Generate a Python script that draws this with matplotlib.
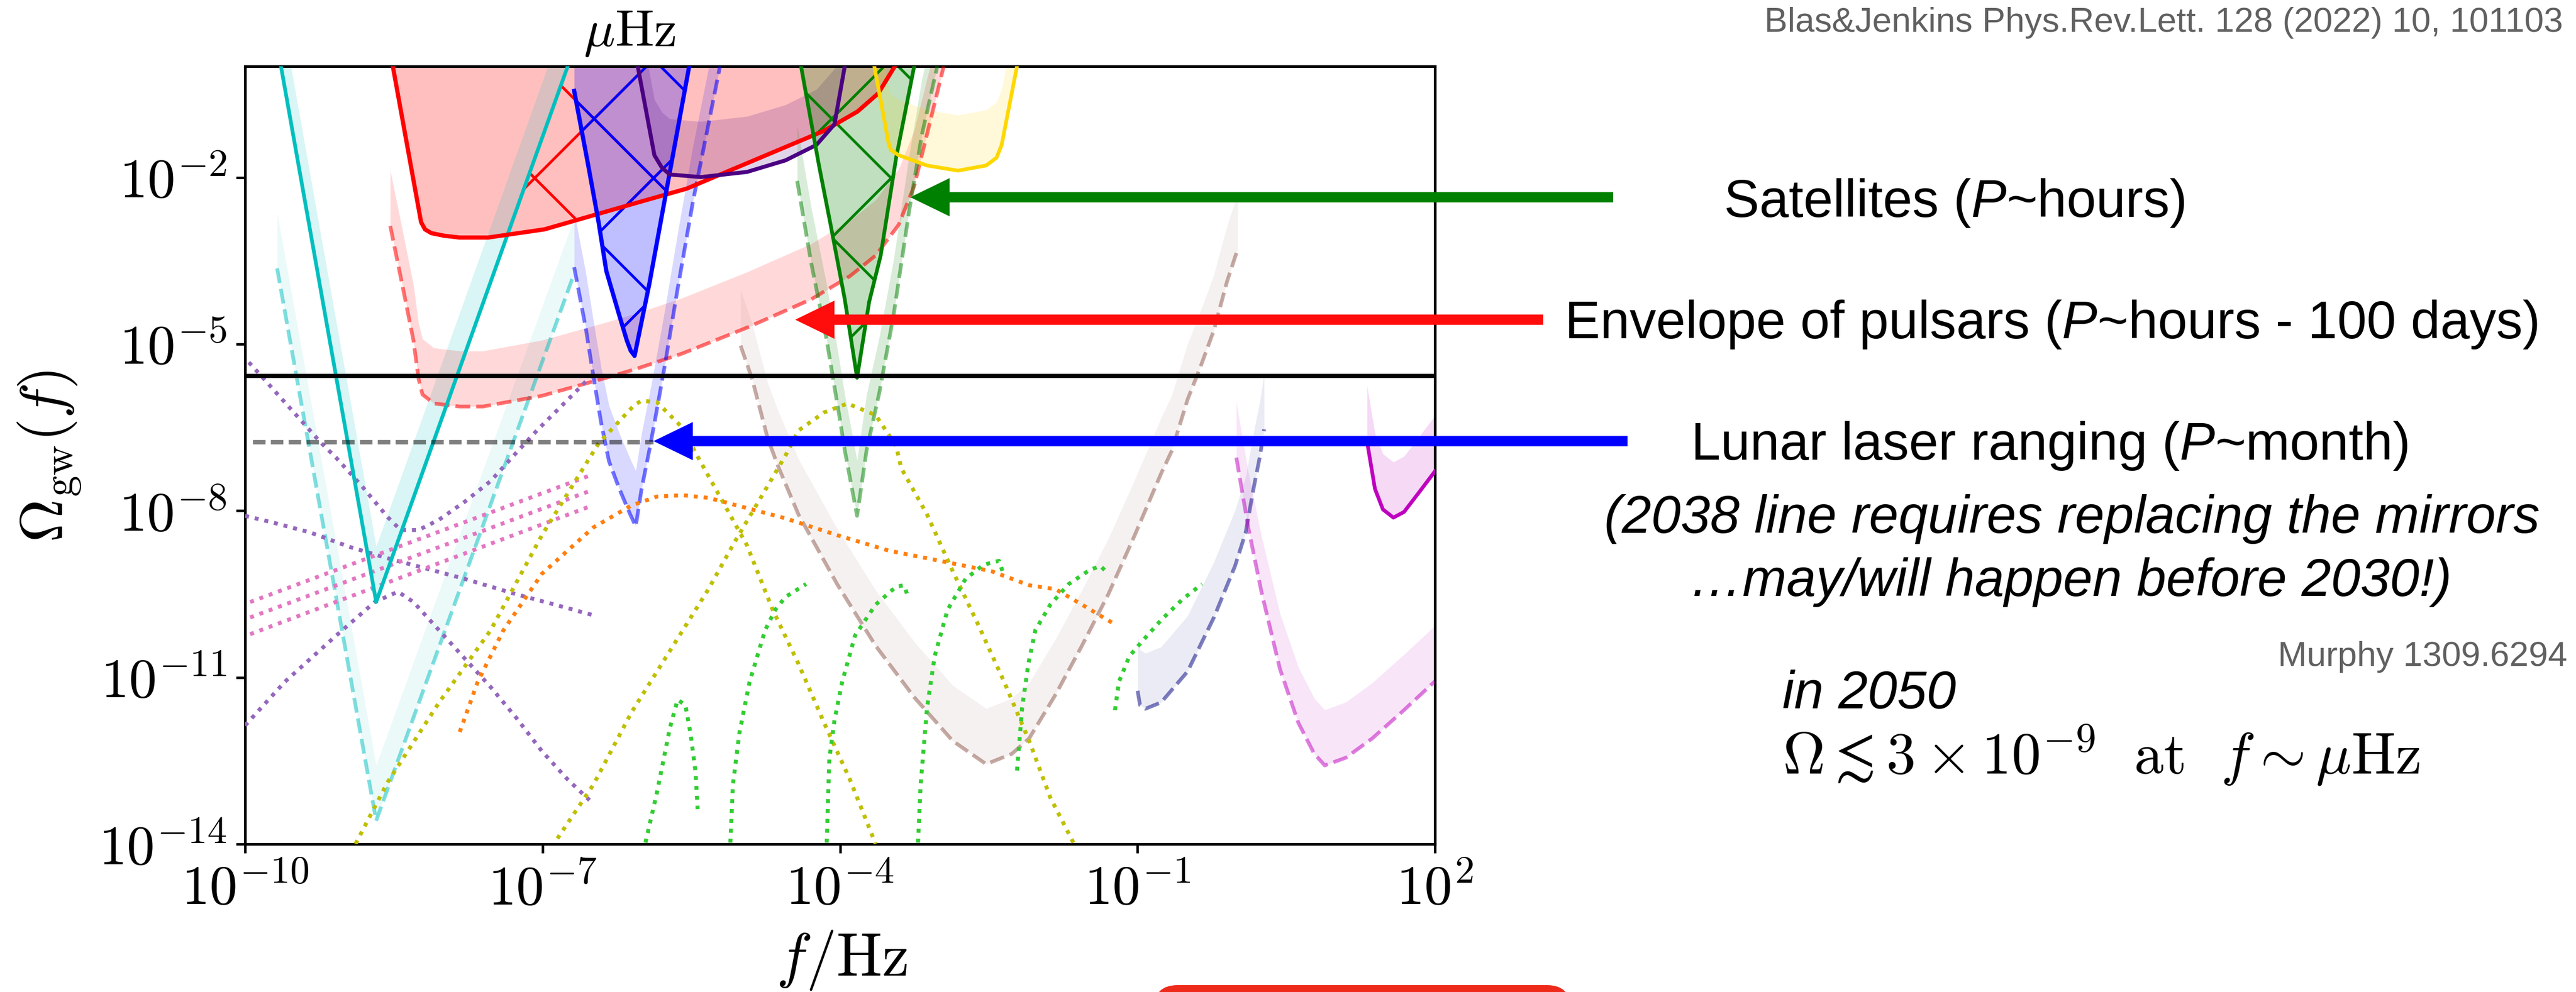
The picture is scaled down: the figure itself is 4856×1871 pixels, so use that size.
import numpy as np
import matplotlib
matplotlib.use("Agg")
import matplotlib.pyplot as plt
from matplotlib.patches import Polygon, FancyBboxPatch
from matplotlib.transforms import Affine2D
from matplotlib.ticker import NullLocator

# ------------------------------------------------------------------
# Curves are given as vertices in decades: log10(f/Hz), log10(Omega_gw)
# ------------------------------------------------------------------

# Pulsar timing arrays: present (solid) and future (dashed)
pta_now_lf = [-9.638, -8.678, -6.746]
pta_now_lo = [0.0, -9.643, 0.0]
pta_fut_lf = [-9.677, -8.678, -6.681]
pta_fut_lo = [-3.638, -13.58, -3.731]

# Binary pulsars: present bound (solid) and envelope of pulsars (dashed)
bp_now_lf = [-8.51, -8.225, -8.186, -8.121, -7.991, -7.835, -7.55, -6.98,
             -6.051, -5.547, -4.16, -3.823, -3.615, -3.447]
bp_now_lo = [0.0, -2.805, -2.935, -3.004, -3.051, -3.083, -3.083, -2.935,
             -2.458, -2.203, -1.161, -0.814, -0.489, 0.0]
bp_fut_lf = [-8.536, -8.406, -8.302, -8.25, -8.211, -8.095, -7.835, -7.602,
             -7.006, -6.357, -6.051, -5.586, -4.938, -4.29, -3.9, -3.641,
             -3.408, -3.252, -3.123, -2.954]
bp_fut_lo = [-2.875, -4.009, -4.935, -5.63, -5.908, -6.07, -6.125, -6.125,
             -5.931, -5.607, -5.445, -5.167, -4.704, -4.194, -3.777, -3.407,
             -2.851, -2.157, -1.23, 0.0]

# Lunar laser ranging: present (solid) and future (dashed)
llr_now_lf = [-6.681, -6.539, -6.435, -6.357, -6.228, -6.15, -6.111, -6.072,
              -5.923, -5.521]
llr_now_lo = [-0.443, -1.786, -2.805, -3.685, -4.472, -4.935, -5.12, -5.213,
              -3.916, 0.0]
llr_fut_lf = [-6.681, -6.565, -6.487, -6.409, -6.331, -6.227, -6.12, -6.06,
              -6.001, -5.923, -5.871, -5.768, -5.638, -5.483, -5.327, -5.21]
llr_fut_lo = [-3.617, -4.704, -5.583, -6.417, -7.103, -7.6, -8.05, -8.28,
              -7.606, -6.911, -6.417, -5.398, -4.009, -2.434, -1.045, 0.0]

# Satellites: present (solid) and future (dashed)
sat_now_lf = [-4.393, -4.212, -4.095, -3.952, -3.828, -3.706, -3.59, -3.434, -3.252]
sat_now_lo = [0.0, -1.786, -2.851, -4.194, -5.607, -4.24, -3.407, -1.647, 0.0]
sat_fut_lf = [-4.432, -4.29, -4.134, -4.004, -3.952, -3.828, -3.732, -3.602,
              -3.459, -3.304, -3.174, -3.019]
sat_fut_lo = [-2.064, -3.546, -4.935, -6.325, -6.911, -8.092, -6.911, -5.862,
              -4.472, -2.62, -1.23, 0.0]

# Other solid bounds
indigo_lf = [-6.04, -5.872, -5.794, -5.716, -5.405, -4.938, -4.549, -4.238, -4.056, -3.952]
indigo_lo = [0.0, -1.601, -1.832, -1.948, -1.995, -1.902, -1.693, -1.416, -1.045, 0.0]
gold_lf = [-3.654, -3.512, -3.486, -3.408, -3.122, -2.811, -2.526, -2.422, -2.37, -2.215]
gold_lo = [0.0, -1.37, -1.508, -1.601, -1.786, -1.879, -1.786, -1.647, -1.416, 0.0]
mag_lf = [1.315, 1.395, 1.475, 1.581, 1.688, 1.847, 2.0]
mag_lo = [-6.75, -7.606, -7.976, -8.124, -8.022, -7.652, -7.29]

# Other projected (dashed) curves
brown_lf = [-5.003, -4.886, -4.73, -4.627, -4.419, -4.03, -3.641, -3.252, -2.863,
            -2.526, -2.267, -2.092, -1.826, -1.56, -1.294, -1.027, -0.761,
            -0.655, -0.495, -0.362, -0.229, -0.096, 0.011]
brown_lo = [-5.028, -5.63, -6.695, -7.189, -8.069, -9.319, -10.43, -11.357, -12.144,
            -12.561, -12.376, -12.098, -11.31, -10.43, -9.504, -8.439, -7.328,
            -6.927, -6.0, -5.398, -4.75, -3.87, -3.291]
slate_lf = [-0.999, -0.974, -0.921, -0.761, -0.495, -0.229, -0.016, 0.091, 0.17, 0.237, 0.277]
slate_lo = [-11.241, -11.5, -11.565, -11.45, -10.894, -9.921, -8.995, -8.393, -7.606, -7.004, -6.533]
orchid_lf = [-0.003, 0.117, 0.25, 0.437, 0.623, 0.783, 0.889, 1.102, 1.368, 1.688, 2.0]
orchid_lo = [-7.043, -8.30, -9.458, -10.85, -11.82, -12.376, -12.584, -12.445, -12.098, -11.588, -11.07]

# Dotted signal curves
purple_a_lf = [-9.962, -9.832, -9.236, -9.08, -8.821, -8.562, -8.432, -8.25, -8.043,
               -7.784, -7.524, -7.265, -7.057, -6.72, -6.487]
purple_a_lo = [-5.329, -5.584, -6.774, -7.05, -7.559, -8.115, -8.347, -8.347, -8.161,
               -7.837, -7.467, -6.957, -6.556, -5.955, -5.537]
purple_b_lf = [-10.0, -9.729, -9.34, -8.951, -8.562, -8.173, -7.784, -7.265, -6.876, -6.5]
purple_b_lo = [-8.092, -8.208, -8.393, -8.648, -8.856, -9.041, -9.227, -9.504, -9.69, -9.875]
purple_c_lf = [-10.0, -9.599, -9.08, -8.692, -8.458, -8.302, -8.043, -7.784, -7.524,
               -7.265, -7.006, -6.746, -6.526]
purple_c_lo = [-11.866, -11.079, -10.245, -9.643, -9.458, -9.643, -10.153, -10.662,
               -11.172, -11.727, -12.329, -12.839, -13.21]

pink_lf = [-9.949, -6.5]
pink_1_lo = [-9.643, -7.351]
pink_2_lo = [-9.921, -7.629]
pink_3_lo = [-10.222, -7.907]

olive_1_lf = [-8.886, -8.562, -8.043, -7.524, -7.006, -6.435, -6.072, -6.0, -5.846,
              -5.716, -5.586, -5.457, -5.197, -4.938, -4.679, -4.419, -4.16, -3.9, -3.641]
olive_1_lo = [-13.997, -12.885, -11.45, -10.153, -8.439, -6.788, -6.093, -6.02, -6.047,
              -6.278, -6.51, -6.957, -7.791, -8.624, -9.782, -10.755, -11.82, -12.839, -13.997]
olive_2_lf = [-6.85, -6.487, -6.105, -5.846, -5.586, -5.327, -5.068, -4.808, -4.549,
              -4.419, -4.16, -3.926, -3.641, -3.434, -3.382, -3.122, -2.863, -2.604,
              -2.345, -2.092, -1.879, -1.64]
olive_2_lo = [-13.9, -12.93, -11.635, -10.894, -10.153, -9.412, -8.578, -7.791, -7.004,
              -6.556, -6.23, -6.07, -6.278, -6.834, -7.235, -8.069, -9.088, -10.06,
              -11.079, -12.144, -13.163, -13.997]

orange_lf = [-7.835, -7.654, -7.395, -7.006, -6.487, -6.105, -5.846, -5.586, -5.327,
             -4.938, -4.549, -4.03, -3.511, -2.993, -2.474, -2.092, -1.826, -1.56, -1.214]
orange_lo = [-11.982, -11.079, -10.153, -9.134, -8.3, -7.907, -7.745, -7.721, -7.768,
             -7.953, -8.138, -8.439, -8.717, -8.902, -9.088, -9.342, -9.412, -9.69, -10.06]

lime_1_lf = [-5.962, -5.846, -5.716, -5.638, -5.56, -5.508, -5.457, -5.436]
lime_1_lo = [-13.974, -13.07, -11.912, -11.403, -11.496, -12.005, -12.7, -13.371]
lime_2_lf = [-5.106, -5.08, -5.015, -4.912, -4.756, -4.653, -4.549, -4.342]
lime_2_lo = [-13.974, -12.93, -12.005, -11.079, -10.153, -9.782, -9.551, -9.319]
lime_3_lf = [-4.134, -4.108, -4.056, -3.978, -3.848, -3.641, -3.434, -3.356, -3.317]
lime_3_lo = [-13.974, -12.468, -11.774, -11.079, -10.245, -9.69, -9.366, -9.342, -9.528]
lime_4_lf = [-3.213, -3.187, -3.122, -3.045, -2.915, -2.734, -2.552, -2.396, -2.357]
lime_4_lo = [-13.974, -12.93, -11.542, -10.616, -9.782, -9.227, -8.972, -8.902, -9.111]
lime_5_lf = [-2.215, -2.163, -2.10, -2.03, -1.879, -1.693, -1.48, -1.373, -1.32]
lime_5_lo = [-12.677, -11.542, -10.75, -10.15, -9.69, -9.319, -9.064, -8.995, -9.088]
lime_6_lf = [-1.227, -1.187, -1.081, -0.947, -0.761, -0.548, -0.349]
lime_6_lo = [-11.589, -11.079, -10.616, -10.338, -9.967, -9.597, -9.319]

# Horizontal reference levels
ref_solid_lo = -5.57
ref_dash_lf = [-9.92, -5.88]
ref_dash_lo = -6.77

# Axis ticks (decades)
xtick_dec = [-10, -7, -4, -1, 2]
ytick_dec = [-14, -11, -8, -5, -2]

# ------------------------------------------------------------------
W, H, DPI = 4856, 1871, 672
plt.rcParams['mathtext.fontset'] = 'cm'
plt.rcParams['font.family'] = ['Liberation Sans', 'DejaVu Sans']
plt.rcParams['hatch.linewidth'] = 0.55

fig = plt.figure(figsize=((W + 0.01) / DPI, (H + 0.01) / DPI), dpi=DPI)
ax = fig.add_axes([462 / W, 1 - 1592 / H, (2705 - 462) / W, (1592 - 125) / H])
pix = Affine2D().scale(1.0 / W, -1.0 / H).translate(0, 1) + fig.transFigure

TOP = 1.0
LW_DASH = 0.75
DASH = (4.0, 1.6)
LW_DOT = 0.8
DOT = (1.0, 1.5)


def P(a):
    return 10.0 ** np.asarray(a, dtype=float)


def fill_top(lf, lo, color, alpha):
    ax.fill_between(P(lf), P(lo), TOP, color=color, alpha=alpha, lw=0, zorder=1)


def fill_band(lf, lo, color, alpha):
    lo = np.asarray(lo, dtype=float)
    ax.fill_between(P(lf), P(lo), P(lo + 1.0), color=color, alpha=alpha, lw=0, zorder=1)


def hatch(lf, lower, upper, color):
    ax.fill_between(P(lf), P(lower), P(upper), facecolor='none', edgecolor=color,
                    hatch='x', lw=0, zorder=1.5)


# --- shaded regions ---
fill_top(bp_now_lf, bp_now_lo, 'r', 0.25)
fill_band(pta_now_lf, pta_now_lo, 'c', 0.15)
fill_band(pta_fut_lf, pta_fut_lo, 'c', 0.08)
fill_band(bp_fut_lf, bp_fut_lo, 'r', 0.15)
fill_top(llr_now_lf, llr_now_lo, 'b', 0.25)
fill_band(llr_fut_lf, llr_fut_lo, 'b', 0.15)
fill_band(indigo_lf, indigo_lo, 'indigo', 0.17)
fill_top(sat_now_lf, sat_now_lo, 'g', 0.25)
fill_band(sat_fut_lf, sat_fut_lo, 'g', 0.15)
fill_band(gold_lf, gold_lo, 'gold', 0.15)
fill_band(brown_lf, brown_lo, 'tab:brown', 0.08)
fill_band(slate_lf, slate_lo, 'navy', 0.08)
fill_band(orchid_lf, orchid_lo, 'm', 0.1)
fill_band(mag_lf, mag_lo, 'm', 0.15)

# hatched: newly excluded parts of parameter space
gx = np.linspace(-7.3, -5.547, 600)
low = np.interp(gx, bp_now_lf, bp_now_lo)
upp = np.minimum.reduce([np.interp(gx, pta_now_lf, pta_now_lo, left=5, right=5),
                         np.interp(gx, indigo_lf, indigo_lo, left=5, right=5),
                         np.zeros_like(gx)])
ok = upp > low
ax.fill_between(P(gx), P(low), P(upp), where=ok, facecolor='none', edgecolor='r',
                hatch='x', lw=0, zorder=1.5, interpolate=True)
hatch(llr_now_lf, llr_now_lo, np.zeros(len(llr_now_lf)), 'b')
hatch(sat_now_lf, sat_now_lo, np.zeros(len(sat_now_lf)), 'g')

# --- dashed projections ---
for lf, lo, c, a in [(pta_fut_lf, pta_fut_lo, 'c', 0.5),
                     (bp_fut_lf, bp_fut_lo, 'r', 0.55),
                     (llr_fut_lf, llr_fut_lo, 'b', 0.55),
                     (sat_fut_lf, sat_fut_lo, 'g', 0.5),
                     (brown_lf, brown_lo, 'tab:brown', 0.5),
                     (slate_lf, slate_lo, 'navy', 0.5),
                     (orchid_lf, orchid_lo, 'm', 0.5)]:
    ax.plot(P(lf), P(lo), color=c, alpha=a, lw=LW_DASH, dashes=DASH, zorder=3)

# --- dotted signals ---
dotted = [(purple_a_lf, purple_a_lo, 'tab:purple'),
          (purple_b_lf, purple_b_lo, 'tab:purple'),
          (purple_c_lf, purple_c_lo, 'tab:purple'),
          (pink_lf, pink_1_lo, 'tab:pink'),
          (pink_lf, pink_2_lo, 'tab:pink'),
          (pink_lf, pink_3_lo, 'tab:pink'),
          (olive_1_lf, olive_1_lo, 'y'),
          (olive_2_lf, olive_2_lo, 'y'),
          (orange_lf, orange_lo, 'tab:orange'),
          (lime_1_lf, lime_1_lo, 'limegreen'),
          (lime_2_lf, lime_2_lo, 'limegreen'),
          (lime_3_lf, lime_3_lo, 'limegreen'),
          (lime_4_lf, lime_4_lo, 'limegreen'),
          (lime_5_lf, lime_5_lo, 'limegreen'),
          (lime_6_lf, lime_6_lo, 'limegreen')]
for lf, lo, c in dotted:
    ax.plot(P(lf), P(lo), color=c, lw=LW_DOT, dashes=DOT, zorder=3)

# --- solid present-day bounds ---
ax.plot(P(pta_now_lf), P(pta_now_lo), color='c', lw=0.75, zorder=4)
ax.plot(P(bp_now_lf), P(bp_now_lo), color='r', lw=0.85, zorder=4)
ax.plot(P(llr_now_lf), P(llr_now_lo), color='b', lw=0.85, zorder=4)
ax.plot(P(indigo_lf), P(indigo_lo), color='indigo', lw=0.8, zorder=4)
ax.plot(P(sat_now_lf), P(sat_now_lo), color='g', lw=0.75, zorder=4)
ax.plot(P(gold_lf), P(gold_lo), color='gold', lw=0.75, zorder=4)
ax.plot(P(mag_lf), P(mag_lo), color='m', lw=0.75, zorder=4)

ax.axhline(10.0 ** ref_solid_lo, color='k', lw=0.85, zorder=5)
ax.plot(P(ref_dash_lf), [10.0 ** ref_dash_lo] * 2, color='k', alpha=0.5, lw=0.9,
        dashes=(2.8, 1.2), zorder=5)

# --- axes ---
ax.set_xscale('log')
ax.set_yscale('log')
ax.set_xlim(1e-10, 1e2)
ax.set_ylim(1e-14, 1e0)
ax.set_xticks([10.0 ** k for k in xtick_dec])
ax.set_xticklabels([r'$10^{%d}$' % k for k in xtick_dec])
ax.set_yticks([10.0 ** k for k in ytick_dec])
ax.set_yticklabels([r'$10^{%d}$' % k for k in ytick_dec])
ax.xaxis.set_minor_locator(NullLocator())
ax.yaxis.set_minor_locator(NullLocator())
ax.tick_params(labelsize=11.3, length=1.8, width=0.5)
ax.tick_params(axis='x', pad=2.2)
ax.tick_params(axis='y', pad=1.9)
for s in ax.spines.values():
    s.set_linewidth(0.55)

fig.text(94, 861, r'$\Omega_{\rm gw}(f)$', transform=pix, rotation=90,
         ha='center', va='center', fontsize=12.1)
fig.text(1587, 1811, r'$f/\mathrm{Hz}$', transform=pix, ha='center', va='center',
         fontsize=12.3)
fig.text(1187, 64, r'$\mu\mathrm{Hz}$', transform=pix, ha='center', va='center',
         fontsize=10.5)

# --- arrows pointing at the curves ---
def arrow(x_tail, x_tip, y, color):
    s, L, h = 9.7, 74, 36
    v = [(x_tail, y - s), (x_tip + L, y - s), (x_tip + L, y - h), (x_tip, y),
         (x_tip + L, y + h), (x_tip + L, y + s), (x_tail, y + s)]
    fig.add_artist(Polygon(v, closed=True, transform=pix, fc=color, ec='none', zorder=10))


arrow(3041, 1716, 372, '#008000')
arrow(2909, 1499, 603, '#ff0c0c')
arrow(3068, 1232, 832, '#0000ff')

# --- annotations ---
renderer = fig.canvas.get_renderer()


def rich_line(pieces, x, y, size, ha='left', color='k'):
    arts = [fig.text(0, 0, s, transform=pix, fontsize=size, style=st, color=color,
                     va='baseline', ha='left') for s, st in pieces]
    widths = [a.get_window_extent(renderer).width for a in arts]
    total = sum(widths)
    x0 = {'left': x, 'center': x - total / 2, 'right': x - total}[ha]
    for a, w in zip(arts, widths):
        a.set_position((x0, y))
        x0 += w


TS = 10.7
rich_line([("Satellites (", 'normal'), ("P", 'italic'), ("~hours)", 'normal')],
          3250, 409, TS)
rich_line([("Envelope of pulsars (", 'normal'), ("P", 'italic'),
           ("~hours - 100 days)", 'normal')], 3869, 638, TS, ha='center')
rich_line([("Lunar laser ranging (", 'normal'), ("P", 'italic'), ("~month)", 'normal')],
          3866, 867, TS, ha='center')
fig.text(3906, 1005, "(2038 line requires replacing the mirrors", transform=pix,
         fontsize=TS, style='italic', ha='center', va='baseline')
fig.text(3903, 1124, "\u2026may/will happen before 2030!)", transform=pix,
         fontsize=TS, style='italic', ha='center', va='baseline')
fig.text(4839, 1256, "Murphy 1309.6294", transform=pix, fontsize=7.0,
         color='#606060', ha='right', va='baseline')
fig.text(3360, 1336, "in 2050", transform=pix, fontsize=TS, style='italic',
         ha='left', va='baseline')
fig.text(3360, 1459, r'$\Omega \lesssim 3\times 10^{-9}\ \ \mathrm{at}\ \ f\sim\mu\mathrm{Hz}$',
         transform=pix, fontsize=11.9, ha='left', va='baseline')
fig.text(4831, 60, "Blas&Jenkins Phys.Rev.Lett. 128 (2022) 10, 101103", transform=pix,
         fontsize=7.0, color='#606060', ha='right', va='baseline')

fig.add_artist(FancyBboxPatch((2175, 1858), 786, 90,
                              boxstyle='round,pad=0,rounding_size=45',
                              transform=pix, fc='#ee2a1b', ec='none', zorder=10))

fig.savefig('out.png', dpi=DPI)
